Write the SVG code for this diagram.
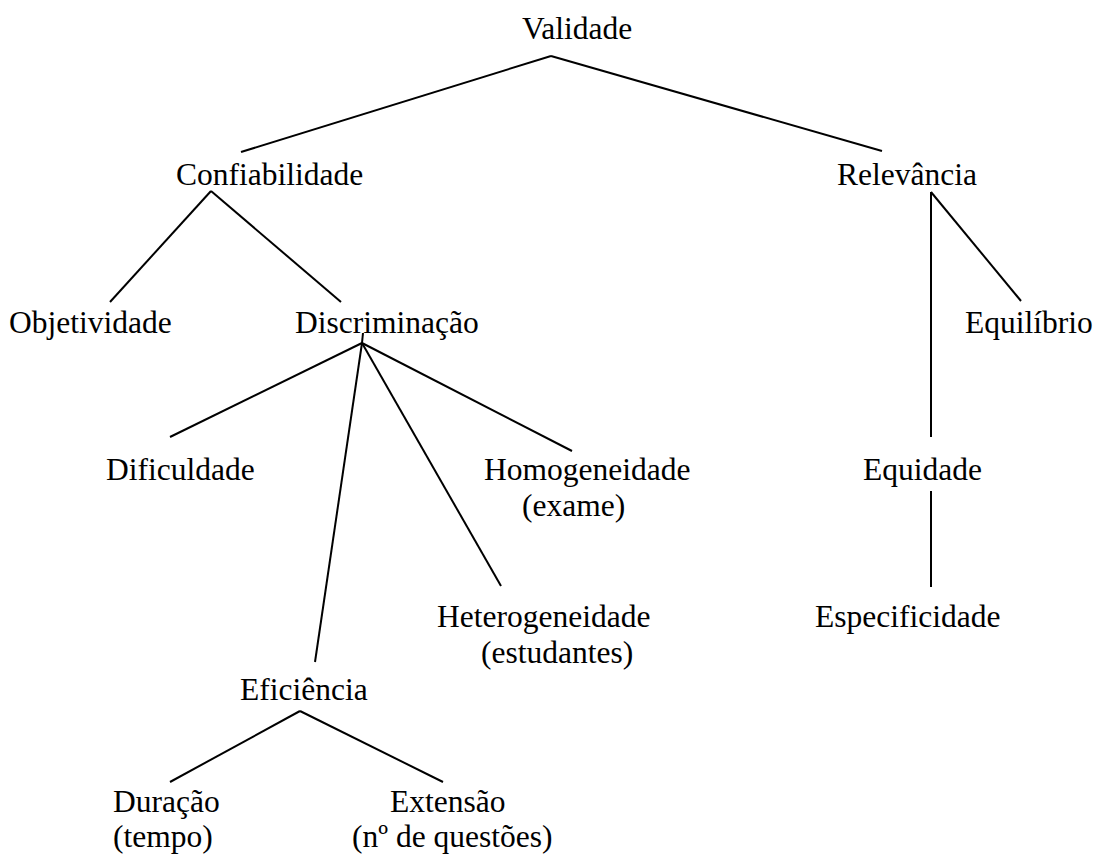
<svg xmlns="http://www.w3.org/2000/svg" width="1097" height="854" viewBox="0 0 1097 854">
  <style>
    .lbl { font-family: "Liberation Serif", "Times New Roman", serif; font-size: 31.5px; fill: #000; }
    .edge { stroke: #000; stroke-width: 2; fill: none; stroke-linecap: butt; }
  </style>
  <rect width="1097" height="854" fill="#fff"/>

  <!-- connectors of the tree -->
  <g id="connectors">
    <line class="edge" x1="551" y1="56" x2="241" y2="152"/>
    <line class="edge" x1="551" y1="56" x2="882" y2="151"/>
    <line class="edge" x1="211" y1="191" x2="110" y2="302"/>
    <line class="edge" x1="211" y1="191" x2="341" y2="302"/>
    <line class="edge" x1="931" y1="192" x2="931" y2="437"/>
    <line class="edge" x1="931" y1="192" x2="1021" y2="301"/>
    <line class="edge" x1="931" y1="491" x2="931" y2="587"/>
    <line class="edge" x1="363" y1="333" x2="362" y2="343"/>
    <line class="edge" x1="362" y1="343" x2="170" y2="437"/>
    <line class="edge" x1="362" y1="343" x2="315" y2="662"/>
    <line class="edge" x1="362" y1="343" x2="501" y2="586"/>
    <line class="edge" x1="362" y1="343" x2="572" y2="451"/>
    <line class="edge" x1="300" y1="711" x2="170" y2="782"/>
    <line class="edge" x1="300" y1="711" x2="443" y2="782"/>
  </g>

  <g id="validade"><text class="lbl" x="522" y="39">Validade</text></g>
  <g id="confiabilidade"><text class="lbl" x="176" y="185">Confiabilidade</text></g>
  <g id="relevancia"><text class="lbl" x="837" y="185">Relevância</text></g>
  <g id="objetividade"><text class="lbl" x="9" y="333">Objetividade</text></g>
  <g id="discriminacao"><text class="lbl" x="295" y="333">Discriminação</text></g>
  <g id="equilibrio"><text class="lbl" x="965" y="333">Equilíbrio</text></g>
  <g id="dificuldade"><text class="lbl" x="106" y="480">Dificuldade</text></g>
  <g id="homogeneidade">
    <text class="lbl" x="484" y="480">Homogeneidade</text>
    <text class="lbl" x="522" y="516">(exame)</text>
  </g>
  <g id="equidade"><text class="lbl" x="863" y="480">Equidade</text></g>
  <g id="heterogeneidade">
    <text class="lbl" x="437" y="627">Heterogeneidade</text>
    <text class="lbl" x="481" y="663">(estudantes)</text>
  </g>
  <g id="especificidade"><text class="lbl" x="815" y="627">Especificidade</text></g>
  <g id="eficiencia"><text class="lbl" x="240" y="700">Eficiência</text></g>
  <g id="duracao">
    <text class="lbl" x="113" y="812">Duração</text>
    <text class="lbl" x="113" y="847">(tempo)</text>
  </g>
  <g id="extensao">
    <text class="lbl" x="390" y="812">Extensão</text>
    <text class="lbl" x="352" y="847">(nº de questões)</text>
  </g>
</svg>
